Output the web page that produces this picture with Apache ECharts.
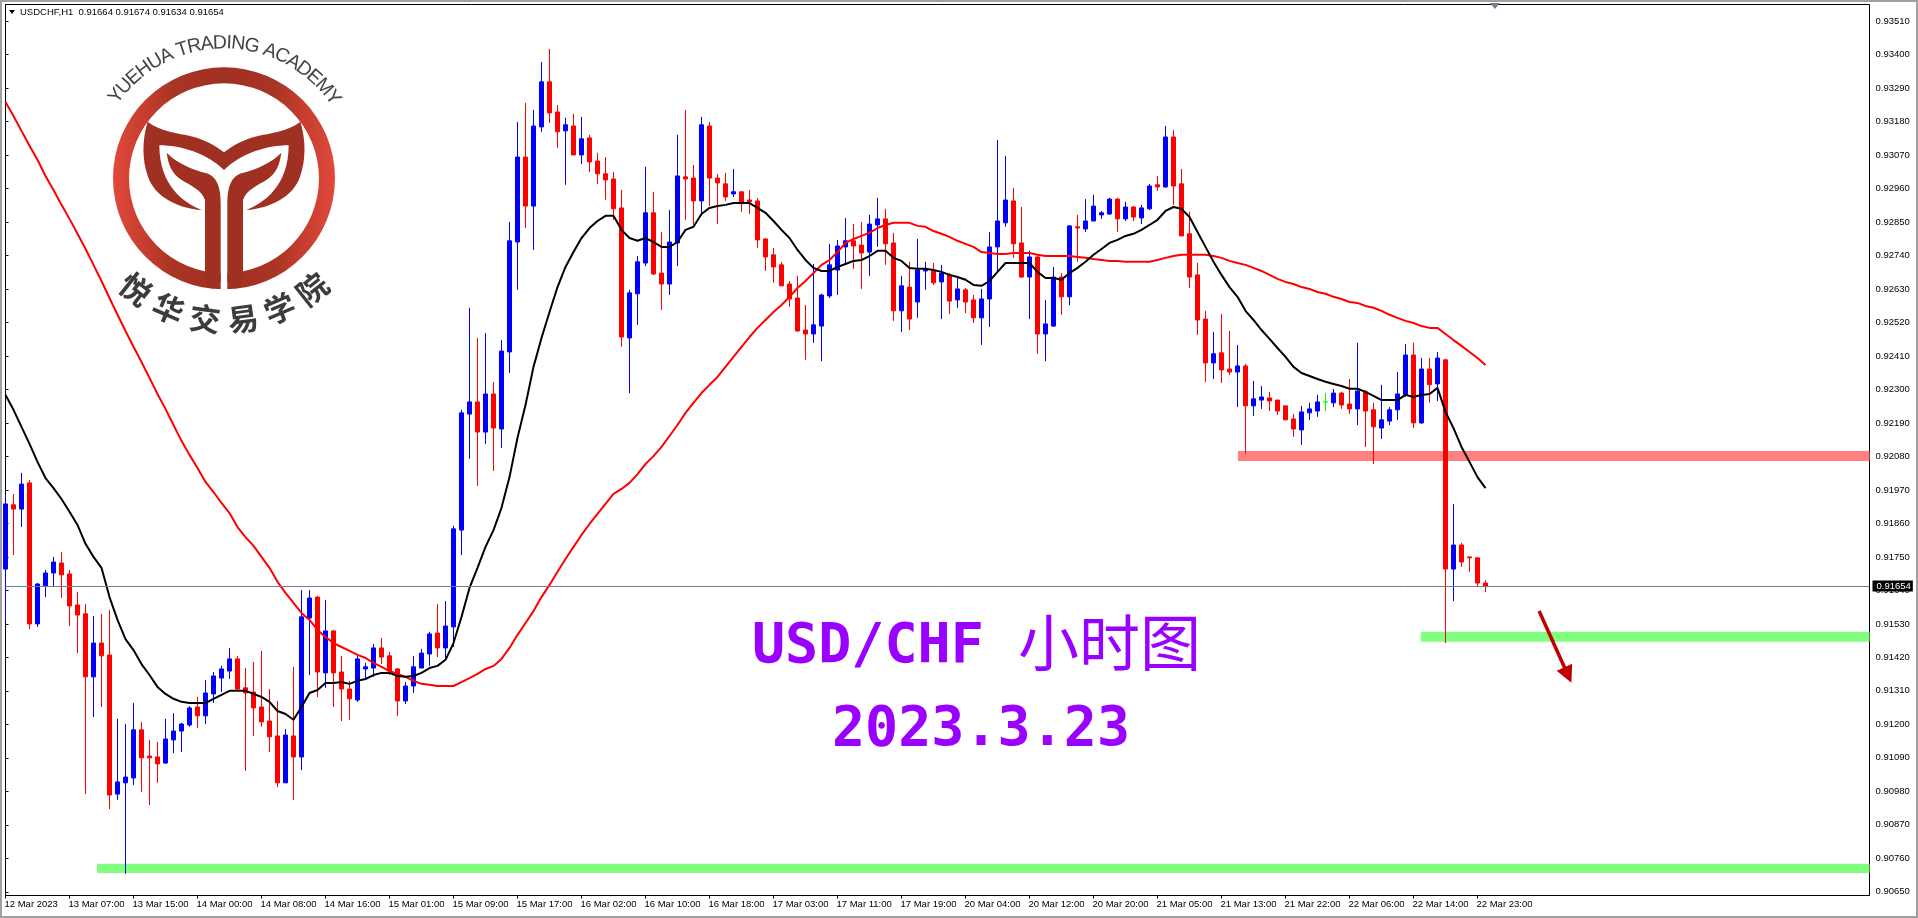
<!DOCTYPE html>
<html>
<head>
<meta charset="utf-8">
<title>USDCHF,H1</title>
<script src="https://cdn.jsdelivr.net/npm/echarts@6/dist/echarts.min.js"></script>
<style>
html, body { margin: 0; padding: 0; background: #fff; }
#chart { width: 1918px; height: 918px; }
</style>
</head>
<body>
<div id="chart"></div>
<script>
// all prices below are in points (1 point = 0.00001)
const opens = [
	91710, 91921, 91907, 91993, 91530, 91655, 91697, 91730, 91694, 91592,
	91563, 91356, 91467, 91428, 90971, 91008, 91024, 91182, 91096, 91093,
	91073, 91149, 91178, 91198, 91257, 91228, 91300, 91352, 91375, 91415,
	91320, 91306, 91257, 91211, 91162, 91008, 91162, 91093, 91549, 91618,
	91369, 91507, 91372, 91316, 91280, 91382, 91385, 91451, 91425, 91382,
	91277, 91326, 91385, 91431, 91500, 91451, 91520, 91838, 92219, 92259,
	92160, 92285, 92170, 92423, 92784, 93063, 92902, 93162, 93310, 93211,
	93149, 93165, 93070, 93126, 93050, 93008, 92991, 92896, 92469, 92614,
	92715, 92880, 92682, 92646, 92781, 92998, 92994, 92919, 93165, 92994,
	92975, 92942, 92949, 92922, 92919, 92794, 92742, 92709, 92646, 92600,
	92495, 92482, 92508, 92607, 92692, 92768, 92788, 92774, 92751, 92840,
	92860, 92781, 92558, 92636, 92587, 92689, 92689, 92653, 92676, 92594,
	92627, 92594, 92535, 92597, 92768, 92847, 92919, 92781, 92669, 92735,
	92482, 92508, 92669, 92604, 92834, 92827, 92853, 92873, 92876, 92925,
	92860, 92899, 92863, 92893, 92972, 92965, 93129, 92975, 92811, 92676,
	92531, 92387, 92420, 92367, 92357, 92377, 92246, 92265, 92272, 92265,
	92246, 92203, 92167, 92223, 92229, 92259, 92256, 92288, 92252, 92236,
	92292, 92233, 92173, 92196, 92233, 92282, 92413, 92190, 92367, 92318,
	92397, 91710, 91789, 91750, 91747, 91664
];
const closes = [
	91924, 91907, 91989, 91530, 91661, 91697, 91733, 91691, 91589, 91559,
	91356, 91467, 91425, 90968, 91011, 91027, 91182, 91090, 91090, 91070,
	91152, 91178, 91201, 91254, 91228, 91303, 91359, 91382, 91415, 91316,
	91303, 91254, 91208, 91159, 91008, 91165, 91093, 91553, 91615, 91372,
	91507, 91369, 91316, 91284, 91415, 91389, 91451, 91421, 91375, 91277,
	91326, 91389, 91434, 91497, 91451, 91523, 91842, 92223, 92259, 92160,
	92285, 92173, 92426, 92788, 93063, 92902, 93165, 93310, 93208, 93146,
	93169, 93070, 93123, 93047, 93008, 92988, 92893, 92472, 92617, 92719,
	92880, 92679, 92646, 92784, 93001, 92991, 92919, 93169, 92994, 92978,
	92932, 92949, 92912, 92916, 92791, 92735, 92702, 92640, 92597, 92492,
	92482, 92512, 92610, 92709, 92771, 92788, 92771, 92748, 92843, 92860,
	92778, 92558, 92640, 92531, 92692, 92696, 92650, 92682, 92590, 92630,
	92587, 92535, 92597, 92768, 92853, 92922, 92778, 92669, 92735, 92482,
	92515, 92669, 92604, 92837, 92830, 92853, 92902, 92880, 92925, 92860,
	92899, 92866, 92896, 92968, 92965, 93129, 92968, 92804, 92669, 92528,
	92387, 92417, 92364, 92357, 92377, 92246, 92269, 92275, 92262, 92229,
	92200, 92170, 92226, 92236, 92259, 92259, 92288, 92249, 92236, 92295,
	92229, 92177, 92200, 92233, 92285, 92413, 92190, 92367, 92315, 92403,
	91710, 91789, 91733, 91747, 91664, 91654
];
const lows = [
	91536, 91756, 91848, 91513, 91520, 91618, 91651, 91615, 91523, 91434,
	90971, 91224, 91257, 90922, 90952, 90709, 91001, 90978, 90935, 91008,
	91070, 91106, 91109, 91192, 91188, 91201, 91270, 91306, 91349, 91313,
	91047, 91162, 91192, 91109, 90994, 91008, 90952, 91050, 91362, 91290,
	91320, 91257, 91211, 91215, 91274, 91346, 91356, 91398, 91362, 91228,
	91267, 91303, 91385, 91392, 91421, 91418, 91454, 91756, 92072, 91983,
	92121, 92032, 92108, 92354, 92627, 92830, 92758, 93146, 93175, 93093,
	92972, 93070, 93040, 93014, 92975, 92922, 92857, 92440, 92288, 92512,
	92705, 92676, 92561, 92610, 92705, 92857, 92840, 92873, 92902, 92843,
	92919, 92932, 92883, 92876, 92765, 92689, 92650, 92640, 92571, 92489,
	92397, 92453, 92393, 92600, 92610, 92709, 92696, 92630, 92673, 92768,
	92709, 92525, 92489, 92495, 92535, 92627, 92643, 92531, 92548, 92568,
	92551, 92518, 92446, 92505, 92686, 92834, 92732, 92666, 92531, 92417,
	92393, 92505, 92545, 92577, 92719, 92817, 92853, 92860, 92873, 92817,
	92853, 92853, 92843, 92889, 92952, 92962, 92906, 92804, 92633, 92479,
	92325, 92334, 92321, 92347, 92242, 92088, 92213, 92236, 92229, 92216,
	92200, 92144, 92118, 92200, 92210, 92229, 92242, 92236, 92219, 92183,
	92111, 92055, 92137, 92183, 92200, 92275, 92173, 92187, 92256, 92262,
	91467, 91605, 91717, 91701, 91651, 91634
];
const highs = [
	91953, 91957, 92026, 92003, 91664, 91707, 91750, 91766, 91707, 91635,
	91595, 91556, 91563, 91576, 91218, 91201, 91270, 91208, 91149, 91142,
	91218, 91237, 91205, 91260, 91290, 91346, 91372, 91392, 91451, 91425,
	91385, 91405, 91441, 91316, 91277, 91185, 91389, 91641, 91641, 91622,
	91609, 91510, 91425, 91343, 91425, 91402, 91464, 91484, 91438, 91385,
	91339, 91425, 91448, 91504, 91595, 91605, 91852, 92233, 92568, 92469,
	92485, 92325, 92462, 92850, 93178, 93241, 93218, 93375, 93418, 93234,
	93192, 93205, 93195, 93136, 93077, 93063, 93014, 92955, 92627, 92738,
	93031, 92949, 92817, 92889, 93136, 93218, 93037, 93195, 93178, 93008,
	93011, 93024, 92949, 92955, 92929, 92797, 92765, 92719, 92656, 92673,
	92577, 92712, 92614, 92778, 92791, 92863, 92843, 92850, 92873, 92929,
	92893, 92814, 92673, 92719, 92794, 92719, 92715, 92709, 92682, 92669,
	92633, 92610, 92630, 92817, 93119, 93067, 92962, 92899, 92755, 92738,
	92594, 92702, 92682, 92840, 92873, 92925, 92939, 92886, 92929, 92929,
	92916, 92902, 92906, 92975, 93001, 93165, 93152, 93024, 92883, 92715,
	92558, 92489, 92548, 92492, 92446, 92384, 92328, 92311, 92292, 92265,
	92246, 92219, 92246, 92256, 92282, 92288, 92302, 92292, 92334, 92453,
	92298, 92256, 92315, 92242, 92357, 92449, 92453, 92403, 92403, 92423,
	92400, 91924, 91796, 91750, 91747, 91674
];
// short moving average (black)
const maShort = [
	92282, 92233, 92177, 92121, 92062, 92009, 91976, 91940, 91898, 91855,
	91793, 91750, 91714, 91618, 91543, 91480, 91444, 91398, 91362, 91323,
	91300, 91284, 91274, 91270, 91270, 91270, 91284, 91297, 91310, 91310,
	91310, 91300, 91290, 91274, 91244, 91234, 91215, 91257, 91303, 91313,
	91336, 91336, 91339, 91333, 91343, 91349, 91362, 91369, 91369, 91359,
	91356, 91359, 91369, 91385, 91392, 91412, 91467, 91553, 91648, 91714,
	91783, 91838, 91911, 92012, 92141, 92249, 92374, 92469, 92554, 92636,
	92702, 92751, 92797, 92830, 92853, 92870, 92870, 92824, 92797, 92788,
	92797, 92784, 92768, 92768, 92784, 92824, 92834, 92876, 92896, 92902,
	92906, 92912, 92912, 92912, 92896, 92880, 92853, 92824, 92797, 92758,
	92725, 92699, 92689, 92689, 92702, 92712, 92722, 92725, 92738, 92755,
	92755, 92732, 92722, 92699, 92696, 92696, 92692, 92686, 92676, 92669,
	92660, 92643, 92640, 92656, 92686, 92715, 92715, 92715, 92715, 92686,
	92666, 92666, 92660, 92682, 92699, 92719, 92742, 92761, 92781, 92791,
	92804, 92811, 92824, 92840, 92857, 92886, 92899, 92893, 92866, 92817,
	92768, 92719, 92676, 92636, 92604, 92558, 92528, 92495, 92466, 92436,
	92407, 92374, 92354, 92344, 92334, 92325, 92318, 92311, 92302, 92302,
	92292, 92279, 92265, 92265, 92265, 92282, 92275, 92282, 92285, 92305,
	92226, 92173, 92111, 92062, 92012, 91976
];
// long moving average (red)
const maLong = [
	93244, 93198, 93149, 93100, 93054, 93001, 92955, 92906, 92860, 92811,
	92762, 92709, 92656, 92600, 92545, 92492, 92440, 92390, 92338, 92285,
	92236, 92183, 92131, 92085, 92042, 91996, 91963, 91927, 91894, 91848,
	91815, 91786, 91750, 91714, 91668, 91632, 91599, 91566, 91543, 91510,
	91487, 91467, 91454, 91441, 91428, 91418, 91402, 91389, 91375, 91366,
	91356, 91343, 91333, 91330, 91326, 91326, 91326, 91339, 91352, 91366,
	91382, 91392, 91415, 91451, 91494, 91533, 91572, 91618, 91658, 91701,
	91743, 91783, 91822, 91858, 91891, 91924, 91957, 91973, 91993, 92022,
	92055, 92081, 92111, 92147, 92183, 92223, 92256, 92288, 92315, 92341,
	92374, 92407, 92440, 92472, 92502, 92528, 92554, 92577, 92604, 92633,
	92656, 92682, 92709, 92725, 92751, 92781, 92794, 92804, 92814, 92830,
	92840, 92847, 92847, 92847, 92837, 92834, 92820, 92811, 92801, 92788,
	92778, 92768, 92751, 92748, 92745, 92745, 92748, 92748, 92748, 92742,
	92738, 92738, 92738, 92738, 92735, 92732, 92728, 92725, 92722, 92722,
	92719, 92719, 92719, 92719, 92725, 92732, 92738, 92742, 92742, 92742,
	92742, 92738, 92732, 92722, 92715, 92709, 92699, 92689, 92676, 92663,
	92653, 92646, 92636, 92630, 92620, 92614, 92604, 92597, 92587, 92584,
	92574, 92568, 92558, 92545, 92535, 92525, 92518, 92508, 92502, 92502,
	92482, 92462, 92443, 92423, 92403, 92380
];
// one label every 8 bars
const timeLabels = [
	'12 Mar 2023', '13 Mar 07:00', '13 Mar 15:00', '14 Mar 00:00', '14 Mar 08:00', '14 Mar 16:00',
	'15 Mar 01:00', '15 Mar 09:00', '15 Mar 17:00', '16 Mar 02:00', '16 Mar 10:00', '16 Mar 18:00',
	'17 Mar 03:00', '17 Mar 11:00', '17 Mar 19:00', '20 Mar 04:00', '20 Mar 12:00', '20 Mar 20:00',
	'21 Mar 05:00', '21 Mar 13:00', '21 Mar 22:00', '22 Mar 06:00', '22 Mar 14:00', '22 Mar 23:00'
];
const priceTicks = [
	0.93510, 0.93400, 0.93290, 0.93180, 0.93070, 0.92960, 0.92850, 0.92740, 0.92630,
	0.92520, 0.92410, 0.92300, 0.92190, 0.92080, 0.91970, 0.91860, 0.91750, 0.91640,
	0.91530, 0.91420, 0.91310, 0.91200, 0.91090, 0.90980, 0.90870, 0.90760, 0.90650
];
const lastPrice = 0.91654;
const headerText = 'USDCHF,H1  0.91664 0.91674 0.91634 0.91654';

// support / resistance bands: first bar, upper and lower price
const zoneStart = [154.06, 176.9, 11.44];
const zoneTop = [0.92098, 0.91504, 0.90742];
const zoneBottom = [0.92065, 0.91471, 0.90712];
// forecast arrow: [bar, price] of tail and head
const arrowFrom = [191.7, 0.91572];
const arrowTo = [195.3, 0.91362];

const slots = 234; // the axis keeps free room right of the last bar
const toPrice = v => v / 100000;
const candleData = opens.map((o, i) => [toPrice(o), toPrice(closes[i]), toPrice(lows[i]), toPrice(highs[i])]);
const isTimeTick = i => i % 8 === 0 && i / 8 < timeLabels.length;

// logo, drawn in a 3x space and scaled down
const logoX = 224, logoY = 178;
const latinName = 'YUEHUA TRADING ACADEMY';
const cjkName = '悦华交易学院';
const logoBrown = '#a03022';

function logoLetters() {
	const widths = { ' ': 0.278, I: 0.278, T: 0.611, Y: 0.667, E: 0.667, A: 0.667, M: 0.833, G: 0.778 };
	const adv = latinName.split('').map(c => widths[c] || 0.722);
	const total = adv.reduce((a, b) => a + b, 0) - (adv[0] + adv[adv.length - 1]) / 2;
	const out = [];
	let pos = 0;
	latinName.split('').forEach((c, i) => {
		if (i > 0) pos += (adv[i - 1] + adv[i]) / 2;
		if (c === ' ') return;
		const a = (-52.7 + 106.3 * pos / total) * Math.PI / 180;
		out.push({
			type: 'text',
			x: logoX + 135 * Math.sin(a),
			y: logoY - 135 * Math.cos(a),
			rotation: -a,
			style: { text: c, fill: '#444', font: '19.5px "Liberation Sans"', textAlign: 'center', textVerticalAlign: 'middle' }
		});
	});
	cjkName.split('').forEach((c, i) => {
		const a = (38.5 - 15.4 * i) * Math.PI / 180;
		out.push({
			type: 'text',
			x: logoX - 142 * Math.sin(a),
			y: logoY + 142 * Math.cos(a),
			rotation: -a,
			style: { text: c, fill: '#3c3c3c', font: 'bold 31px "Noto Sans CJK SC"', textAlign: 'center', textVerticalAlign: 'middle' }
		});
	});
	return out;
}

// graphic has no plain path type, so the logo outlines go in as registered shapes
echarts.graphic.registerShape('logoStemLeft', echarts.graphic.extendPath(
	'M500,458 C530,490 580,510 620,520 C650,530 662,560 662,610 L662,845 L635,866 L615,850 L615,600 C605,570 570,555 545,540 C515,520 505,495 500,458 Z'
));
echarts.graphic.registerShape('logoStemRight', echarts.graphic.extendPath(
	'M844,458 C814,490 764,510 724,520 C694,530 682,560 682,610 L682,845 L709,866 L729,850 L729,600 C739,570 774,555 799,540 C829,520 839,495 844,458 Z'
));
echarts.graphic.registerShape('logoLeaves', echarts.graphic.extendPath(
	'M443,365 C480,395 540,400 570,408 C620,420 650,440 672,457 C694,440 724,420 774,408 C804,400 864,395 901,365 C918,420 918,480 900,530 C880,590 810,625 739,630 C790,610 866,560 866,436 C800,436 724,460 672,510 C620,460 544,436 478,436 C478,560 554,610 605,630 C534,625 464,590 444,530 C426,480 426,420 443,365 Z'
));

const logoShapes = {
	type: 'group',
	scaleX: 1 / 3,
	scaleY: 1 / 3,
	children: [
		{
			type: 'ring',
			shape: { cx: 672, cy: 535, r: 333, r0: 285 },
			style: {
				fill: {
					type: 'linear', x: 0, y: 0, x2: 1, y2: 0,
					colorStops: [
						{ offset: 0, color: '#e2483a' },
						{ offset: 0.28, color: '#a83424' },
						{ offset: 0.5, color: logoBrown },
						{ offset: 0.72, color: '#a83424' },
						{ offset: 1, color: '#e2483a' }
					]
				}
			}
		},
		// gap at the bottom of the ring
		{ type: 'rect', shape: { x: 662, y: 600, width: 20, height: 290 }, style: { fill: '#fff' } },
		{ type: 'logoStemLeft', style: { fill: logoBrown } },
		{ type: 'logoStemRight', style: { fill: logoBrown } },
		{ type: 'logoLeaves', style: { fill: logoBrown } }
	]
};

const chart = echarts.init(document.getElementById('chart'));
chart.setOption({
	animation: false,
	backgroundColor: '#fff',
	grid: {
		show: true, left: 5.5, top: 4.5, width: 1864, height: 891,
		borderColor: '#000', borderWidth: 1, backgroundColor: 'transparent'
	},
	xAxis: [
		{
			type: 'category',
			boundaryGap: false,
			data: Array.from({ length: slots }, (_, i) => String(i)),
			axisLine: { lineStyle: { color: '#000' } },
			axisTick: { length: 3, interval: isTimeTick, lineStyle: { color: '#000' } },
			axisLabel: {
				interval: isTimeTick,
				formatter: (v, i) => timeLabels[i / 8] || '',
				align: 'left',
				margin: 4,
				padding: [0, 0, 0, -1],
				color: '#000',
				fontFamily: 'Liberation Sans',
				fontSize: 9.5,
				showMinLabel: true,
				hideOverlap: false
			},
			splitLine: { show: false }
		},
		// hidden axis in bar units for the drawn levels and the arrow
		{ type: 'value', show: false, min: 0, max: slots - 1, splitLine: { show: false } }
	],
	yAxis: {
		type: 'value',
		position: 'right',
		min: 0.90638,
		max: 0.93564,
		axisLine: { show: true, lineStyle: { color: '#000' } },
		axisTick: { show: true, length: 3, customValues: priceTicks, lineStyle: { color: '#000' } },
		axisLabel: {
			customValues: priceTicks,
			formatter: v => v.toFixed(5),
			margin: 6,
			color: '#000',
			fontFamily: 'Liberation Sans',
			fontSize: 9.5
		},
		splitLine: { show: false }
	},
	series: [
		{
			name: 'levels',
			type: 'line',
			xAxisIndex: 1,
			clip: false,
			z: 1,
			data: [],
			markArea: {
				silent: true,
				data: zoneStart.map((s, i) => [
					{ xAxis: s, yAxis: zoneTop[i], itemStyle: { color: i === 0 ? '#ff8080' : '#80ff80', opacity: 1 } },
					{ xAxis: slots - 1, yAxis: zoneBottom[i] }
				])
			},
			markLine: {
				silent: true,
				animation: false,
				symbol: 'none',
				lineStyle: { color: '#708090', width: 1, type: 'solid' },
				label: {
					show: true,
					position: 'end',
					distance: 3,
					formatter: () => lastPrice.toFixed(5),
					color: '#fff',
					backgroundColor: '#000',
					padding: [1, 2, 0, 4],
					fontFamily: 'Liberation Sans',
					fontSize: 9.5
				},
				data: [[{ coord: [0, lastPrice] }, { coord: [slots - 1, lastPrice] }]]
			}
		},
		{
			name: 'USDCHF',
			type: 'candlestick',
			z: 2,
			barWidth: 5,
			data: candleData,
			itemStyle: {
				color: '#0000ff',
				color0: '#ff0000',
				borderColor: '#0000ff',
				borderColor0: '#ff0000',
				borderColorDoji: '#00ff00',
				borderWidth: 1
			}
		},
		{
			name: 'MA long',
			type: 'line',
			z: 3,
			data: maLong.map(toPrice),
			showSymbol: false,
			lineStyle: { color: '#ff0000', width: 2 }
		},
		{
			name: 'MA short',
			type: 'line',
			z: 4,
			data: maShort.map(toPrice),
			showSymbol: false,
			lineStyle: { color: '#000', width: 2 }
		},
		{
			name: 'forecast',
			type: 'line',
			xAxisIndex: 1,
			clip: false,
			z: 5,
			data: [],
			markLine: {
				silent: true,
				animation: false,
				symbol: ['none', 'triangle'],
				symbolSize: 17,
				lineStyle: { color: '#c00000', width: 3.5, type: 'solid' },
				label: { show: false },
				data: [[{ coord: arrowFrom }, { coord: arrowTo }]]
			}
		}
	],
	graphic: [
		// window edge
		{ type: 'rect', shape: { x: 1, y: 1, width: 1916, height: 916 }, style: { fill: 'transparent', stroke: '#a0a0a0', lineWidth: 2 } },
		{ type: 'polygon', shape: { points: [[9, 10], [15, 10], [12, 14]] }, style: { fill: '#000' } },
		{ type: 'polygon', shape: { points: [[1490, 3], [1500, 3], [1495, 9]] }, style: { fill: '#708090' } },
		{ type: 'text', x: 20, y: 7, style: { text: headerText, fill: '#000', font: '9.5px "Liberation Sans"' } },
		logoShapes,
		...logoLetters(),
		{ type: 'text', x: 752, y: 620, style: { text: 'USD/CHF', fill: '#9900ff', font: 'bold 55px "DejaVu Sans Mono"' } },
		{ type: 'text', x: 1018, y: 612, style: { text: '小时图', fill: '#9900ff', font: '61px "Noto Sans CJK SC"' } },
		{ type: 'text', x: 832, y: 703, style: { text: '2023.3.23', fill: '#9900ff', font: 'bold 55px "DejaVu Sans Mono"' } }
	]
});
</script>
</body>
</html>
